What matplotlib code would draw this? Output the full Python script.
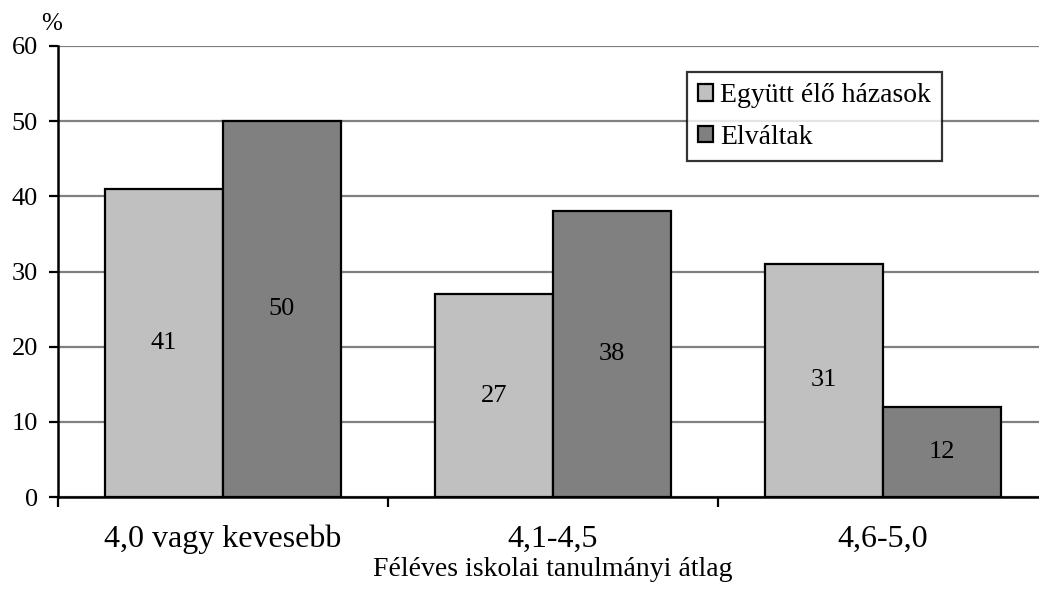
import numpy as np
import matplotlib.pyplot as plt

plt.rcParams['font.family'] = ['Liberation Serif', 'DejaVu Serif']

categories = ['4,0 vagy kevesebb', '4,1-4,5', '4,6-5,0']
series_names = ['Együtt élő házasok', 'Elváltak']
married = [41, 27, 31]
divorced = [50, 38, 12]
y_ticks = [0, 10, 20, 30, 40, 50, 60]

W, H = 1039, 589
fig = plt.figure(figsize=(W / 100, H / 100), dpi=100)
# axes spans 58..1048 px horizontally (right edge clipped by the figure)
ax = fig.add_axes([58 / W, (H - 497) / H, 990 / W, 451 / H])

x = np.arange(len(categories)) + 0.5
bw = 0.357
ax.bar(x - bw / 2, married, bw, color='#C0C0C0', edgecolor='black',
       linewidth=1.6, label=series_names[0], zorder=3)
ax.bar(x + bw / 2, divorced, bw, color='#808080', edgecolor='black',
       linewidth=1.6, label=series_names[1], zorder=3)

for xi, v in zip(x - bw / 2, married):
    ax.text(xi, v / 2, str(v), ha='center', va='center', fontsize=19, zorder=4)
for xi, v in zip(x + bw / 2, divorced):
    ax.text(xi, v / 2, str(v), ha='center', va='center', fontsize=19, zorder=4)

ax.set_xlim(0, 3)
ax.set_ylim(0, 60)
ax.set_yticks(y_ticks)
ax.set_yticklabels([str(t) for t in y_ticks], fontsize=19)
ax.yaxis.grid(True, color='#808080', linewidth=1.6, zorder=0)
ax.set_axisbelow(True)

ax.set_xticks([0, 1, 2, 3])
ax.set_xticklabels([])
ax.set_xticks(x, labels=categories, minor=True)
ax.tick_params(axis='x', which='minor', length=0, labelsize=23, pad=20)
ax.tick_params(axis='x', which='major', length=7, width=1.6, direction='out')
ax.tick_params(axis='y', length=6.5, width=1.6, direction='out', pad=8)

ax.spines[['top', 'right']].set_visible(False)
ax.spines[['left', 'bottom']].set_linewidth(1.8)
ax.spines[['left', 'bottom']].set_color('black')

ax.set_xlabel('Féléves iskolai tanulmányi átlag', fontsize=20, labelpad=2)
fig.text(52 / W, 1 - 24 / H, '%', fontsize=18, ha='center', va='center')

leg = ax.legend(loc='upper left', bbox_to_anchor=((687 - 58) / 990, 1 - (72 - 46) / 451),
                fontsize=20, frameon=True, fancybox=False, edgecolor='black',
                handlelength=0.55, handleheight=0.55, handletextpad=0.25,
                borderpad=0.4, labelspacing=0.6, borderaxespad=0)
leg.get_frame().set_linewidth(1.6)
for h in leg.legend_handles:
    h.set_linewidth(1.6)

fig.savefig('out.png', dpi=100)
